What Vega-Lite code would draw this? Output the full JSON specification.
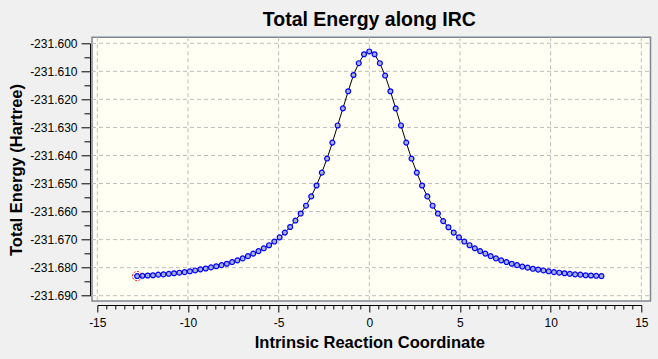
{
  "$schema": "https://vega.github.io/schema/vega-lite/v6.json",
  "autosize": {"type": "none"},
  "width": 544,
  "height": 252.4,
  "padding": {"left": 97.3, "top": 43.3, "right": 16.7, "bottom": 63.3},
  "background": "#f0f0f0",
  "config": {"view": {"stroke": null}},
  "title": {"text": "Total Energy along IRC", "font": "Liberation Sans", "fontSize": 19.5, "fontWeight": "bold", "color": "black", "anchor": "middle", "frame": "group", "offset": 6},
  "resolve": {"axis": {"x": "independent", "y": "independent"}},
  "datasets": {
    "irc": [
      {"x": -12.804, "E": -231.6830}, {"x": -12.513, "E": -231.6829}, {"x": -12.222, "E": -231.6828}, {"x": -11.931, "E": -231.6827},
      {"x": -11.64, "E": -231.6825}, {"x": -11.349, "E": -231.6824}, {"x": -11.058, "E": -231.6822}, {"x": -10.767, "E": -231.6820},
      {"x": -10.476, "E": -231.6818}, {"x": -10.185, "E": -231.6816}, {"x": -9.894, "E": -231.6813}, {"x": -9.603, "E": -231.6810},
      {"x": -9.312, "E": -231.6806}, {"x": -9.021, "E": -231.6803}, {"x": -8.73, "E": -231.6799}, {"x": -8.439, "E": -231.6795},
      {"x": -8.148, "E": -231.6791}, {"x": -7.857, "E": -231.6786}, {"x": -7.566, "E": -231.6780}, {"x": -7.275, "E": -231.6774},
      {"x": -6.984, "E": -231.6767}, {"x": -6.693, "E": -231.6759}, {"x": -6.402, "E": -231.6750}, {"x": -6.111, "E": -231.6741},
      {"x": -5.82, "E": -231.6731}, {"x": -5.529, "E": -231.6720}, {"x": -5.238, "E": -231.6707}, {"x": -4.947, "E": -231.6692},
      {"x": -4.656, "E": -231.6675}, {"x": -4.365, "E": -231.6655}, {"x": -4.074, "E": -231.6632}, {"x": -3.783, "E": -231.6607},
      {"x": -3.492, "E": -231.6579}, {"x": -3.201, "E": -231.6546}, {"x": -2.91, "E": -231.6507}, {"x": -2.619, "E": -231.6461},
      {"x": -2.328, "E": -231.6411}, {"x": -2.037, "E": -231.6354}, {"x": -1.746, "E": -231.6293}, {"x": -1.455, "E": -231.6232},
      {"x": -1.164, "E": -231.6171}, {"x": -0.873, "E": -231.6113}, {"x": -0.582, "E": -231.6071}, {"x": -0.291, "E": -231.6039},
      {"x": 0, "E": -231.6029},
      {"x": 0.291, "E": -231.6039}, {"x": 0.582, "E": -231.6071}, {"x": 0.873, "E": -231.6115}, {"x": 1.164, "E": -231.6171},
      {"x": 1.455, "E": -231.6232}, {"x": 1.746, "E": -231.6293}, {"x": 2.037, "E": -231.6354}, {"x": 2.328, "E": -231.6411},
      {"x": 2.619, "E": -231.6461}, {"x": 2.91, "E": -231.6507}, {"x": 3.201, "E": -231.6546}, {"x": 3.492, "E": -231.6579},
      {"x": 3.783, "E": -231.6607}, {"x": 4.074, "E": -231.6634}, {"x": 4.365, "E": -231.6656}, {"x": 4.656, "E": -231.6675},
      {"x": 4.947, "E": -231.6692}, {"x": 5.238, "E": -231.6707}, {"x": 5.529, "E": -231.6720}, {"x": 5.82, "E": -231.6731},
      {"x": 6.111, "E": -231.6741}, {"x": 6.402, "E": -231.6750}, {"x": 6.693, "E": -231.6759}, {"x": 6.984, "E": -231.6767},
      {"x": 7.275, "E": -231.6774}, {"x": 7.566, "E": -231.6780}, {"x": 7.857, "E": -231.6786}, {"x": 8.148, "E": -231.6791},
      {"x": 8.439, "E": -231.6796}, {"x": 8.73, "E": -231.6800}, {"x": 9.021, "E": -231.6804}, {"x": 9.312, "E": -231.6807},
      {"x": 9.603, "E": -231.6810}, {"x": 9.894, "E": -231.6813}, {"x": 10.185, "E": -231.6816}, {"x": 10.476, "E": -231.6818},
      {"x": 10.767, "E": -231.6820}, {"x": 11.058, "E": -231.6822}, {"x": 11.349, "E": -231.6824}, {"x": 11.64, "E": -231.6825},
      {"x": 11.931, "E": -231.6827}, {"x": 12.222, "E": -231.6828}, {"x": 12.513, "E": -231.6829}, {"x": 12.804, "E": -231.6830}
    ],
    "start": [{"x": -12.804, "E": -231.6830}],
    "xgrid": [{"v": -15}, {"v": -10}, {"v": -5}, {"v": 0}, {"v": 5}, {"v": 10}, {"v": 15}],
    "ygrid": [{"v": -231.600}, {"v": -231.610}, {"v": -231.620}, {"v": -231.630}, {"v": -231.640}, {"v": -231.650}, {"v": -231.660}, {"v": -231.670}, {"v": -231.680}, {"v": -231.690}]
  },
  "data": {"name": "irc"},
  "layer": [
    {
      "data": {"name": "start"},
      "mark": {"type": "rect", "fill": "#fffff4", "stroke": "#7f8591", "strokeWidth": 1.5},
      "encoding": {
        "x": {"datum": -15.292, "type": "quantitative", "scale": {"domain": [-15, 15], "nice": false, "zero": false}, "axis": null},
        "x2": {"datum": 15.507},
        "y": {"datum": -231.59786, "type": "quantitative", "scale": {"domain": [-231.69, -231.6], "nice": false, "zero": false}, "axis": null},
        "y2": {"datum": -231.69193}
      }
    },
    {
      "data": {"name": "xgrid"},
      "mark": {"type": "rule", "stroke": "#bdbdbd", "strokeWidth": 1, "strokeDash": [4, 3]},
      "encoding": {
        "x": {"field": "v", "type": "quantitative", "axis": null},
        "y": {"datum": -231.59786, "type": "quantitative", "axis": null},
        "y2": {"datum": -231.69193}
      }
    },
    {
      "data": {"name": "ygrid"},
      "mark": {"type": "rule", "stroke": "#bdbdbd", "strokeWidth": 1, "strokeDash": [4, 3]},
      "encoding": {
        "y": {"field": "v", "type": "quantitative", "axis": null},
        "x": {"datum": -15.292, "type": "quantitative", "axis": null},
        "x2": {"datum": 15.507}
      }
    },
    {
      "mark": {"type": "line", "color": "black", "strokeWidth": 1},
      "encoding": {
        "x": {
          "field": "x", "type": "quantitative",
          "axis": {
            "orient": "bottom", "offset": 9.3,
            "values": [-15, -10, -5, 0, 5, 10, 15],
            "grid": false,
            "domainColor": "black", "domainWidth": 1,
            "tickColor": "black", "tickWidth": 1, "tickSize": 7,
            "labelExpr": "(datum.value < 0 ? '-' : '') + format(abs(datum.value), 'd')",
            "labelFont": "Liberation Sans", "labelFontSize": 12, "labelColor": "black", "labelPadding": 5,
            "labelOverlap": false, "labelBound": false, "labelFlush": false,
            "title": "Intrinsic Reaction Coordinate", "titleFont": "Liberation Sans", "titleFontSize": 16.5, "titleFontWeight": "bold", "titleColor": "black", "titlePadding": 6
          }
        },
        "y": {
          "field": "E", "type": "quantitative",
          "axis": {
            "orient": "left", "offset": 7.3,
            "values": [-231.69, -231.68, -231.67, -231.66, -231.65, -231.64, -231.63, -231.62, -231.61, -231.6],
            "grid": false,
            "domainColor": "black", "domainWidth": 1,
            "tickColor": "black", "tickWidth": 1, "tickSize": 9,
            "labelExpr": "'-' + format(abs(datum.value), '.3f')",
            "labelFont": "Liberation Sans", "labelFontSize": 12, "labelColor": "black", "labelPadding": 4,
            "labelOverlap": false, "labelBound": false, "labelFlush": false,
            "title": "Total Energy (Hartree)", "titleFont": "Liberation Sans", "titleFontSize": 16.5, "titleFontWeight": "bold", "titleColor": "black", "titlePadding": 5
          }
        }
      }
    },
    {
      "mark": {"type": "circle", "fill": "#a9b1d3", "stroke": "#0000ff", "strokeWidth": 1.2, "size": 24, "opacity": 1},
      "encoding": {
        "x": {
          "field": "x", "type": "quantitative",
          "axis": {
            "orient": "bottom", "offset": 9.3,
            "values": [-14.5, -14, -13.5, -13, -12.5, -12, -11.5, -11, -10.5, -9.5, -9, -8.5, -8, -7.5, -7, -6.5, -6, -5.5, -4.5, -4, -3.5, -3, -2.5, -2, -1.5, -1, -0.5, 0.5, 1, 1.5, 2, 2.5, 3, 3.5, 4, 4.5, 5.5, 6, 6.5, 7, 7.5, 8, 8.5, 9, 9.5, 10.5, 11, 11.5, 12, 12.5, 13, 13.5, 14, 14.5],
            "grid": false, "domain": false, "labels": false, "title": null,
            "tickColor": "black", "tickWidth": 1, "tickSize": 4
          }
        },
        "y": {
          "field": "E", "type": "quantitative",
          "axis": {
            "orient": "left", "offset": 7.3,
            "values": [-231.685, -231.675, -231.665, -231.655, -231.645, -231.635, -231.625, -231.615, -231.605],
            "grid": false, "domain": false, "labels": false, "title": null,
            "tickColor": "black", "tickWidth": 1, "tickSize": 6
          }
        }
      }
    },
    {
      "data": {"name": "start"},
      "mark": {"type": "point", "shape": "circle", "filled": false, "stroke": "#ff0000", "strokeWidth": 1, "strokeDash": [2, 1.5], "size": 85, "opacity": 1},
      "encoding": {
        "x": {"field": "x", "type": "quantitative", "axis": null},
        "y": {"field": "E", "type": "quantitative", "axis": null}
      }
    }
  ]
}
